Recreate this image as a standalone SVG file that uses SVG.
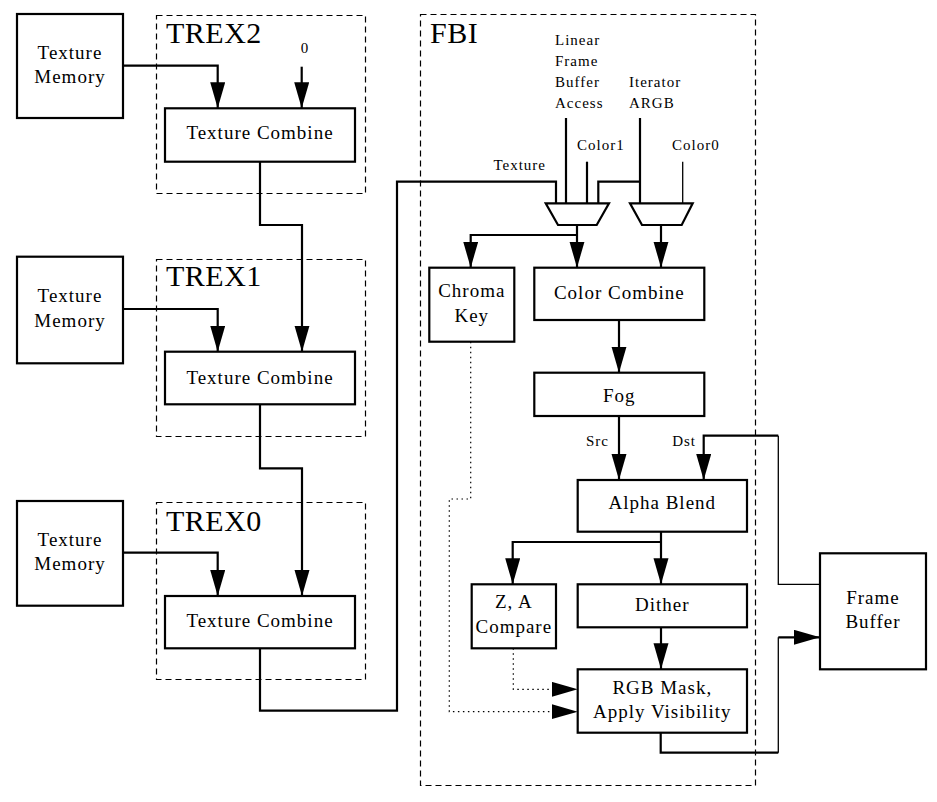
<svg xmlns="http://www.w3.org/2000/svg" width="937" height="802" viewBox="0 0 937 802">
<defs>
<style>
.box{fill:#fff;stroke:#000;stroke-width:2.2}
.grp{fill:none;stroke:#000;stroke-width:1.2;stroke-dasharray:6,4}
.ln{fill:none;stroke:#000;stroke-width:2.2}
.thin{fill:none;stroke:#000;stroke-width:1.3}
.dot{fill:none;stroke:#000;stroke-width:1.2;stroke-dasharray:1.5,3.5}
.mux{fill:#fff;stroke:#000;stroke-width:2.2;stroke-linejoin:miter}
text{font-family:"Liberation Serif","DejaVu Serif",serif;fill:#000}
.t{font-size:19px;text-anchor:middle;letter-spacing:1px}
.big{font-size:30px;letter-spacing:0.5px}
.s{font-size:15px;letter-spacing:1px}
</style>
<marker id="ah" markerUnits="userSpaceOnUse" markerWidth="27" markerHeight="16" refX="26" refY="7.5" orient="auto">
<path d="M0,0 L26,7.5 L0,15 z" fill="#000"/>
</marker>
</defs>
<rect width="937" height="802" fill="#fff"/>

<g id="groups">
<rect id="trex2" class="grp" x="156.5" y="15.5" width="209" height="178"/>
<text class="big" x="166" y="43">TREX2</text>
<rect id="trex1" class="grp" x="156.5" y="259.5" width="209" height="177"/>
<text class="big" x="166" y="286">TREX1</text>
<rect id="trex0" class="grp" x="156.5" y="502.5" width="209" height="177"/>
<text class="big" x="166" y="531">TREX0</text>
<rect id="fbi" class="grp" x="420.5" y="14.5" width="335" height="771"/>
<text class="big" x="430" y="43">FBI</text>
</g>

<g id="connectors">
<polyline class="ln" points="123,65.7 217.7,65.7 217.7,108.3" marker-end="url(#ah)"/>
<polyline class="ln" points="301.7,66.7 301.7,108.3" marker-end="url(#ah)"/>
<polyline class="ln" points="260,161.7 260,225 302,225 302,351.7" marker-end="url(#ah)"/>
<polyline class="ln" points="123,309 217.7,309 217.7,351.7" marker-end="url(#ah)"/>
<polyline class="ln" points="260,404.3 260,468.3 302,468.3 302,596" marker-end="url(#ah)"/>
<polyline class="ln" points="123,552.7 217.7,552.7 217.7,596" marker-end="url(#ah)"/>
<polyline class="ln" points="260,648.3 260,710.7 397,710.7 397,181.7 556,181.7 556,203.3"/>
<polyline class="ln" points="566,118 566,203.3"/>
<polyline class="ln" points="587,161.7 587,203.3"/>
<polyline class="ln" points="640,118 640,203.3"/>
<polyline class="ln" points="640,181.7 598.3,181.7 598.3,203.3"/>
<polyline class="thin" points="682.7,161.7 682.7,203.3"/>
<polyline class="ln" points="577,225 577,267.7" marker-end="url(#ah)"/>
<polyline class="ln" points="577,235 470.7,235 470.7,267.7" marker-end="url(#ah)"/>
<polyline class="ln" points="661,225 661,267.7" marker-end="url(#ah)"/>
<polyline class="ln" points="619,320 619,372.7" marker-end="url(#ah)"/>
<polyline class="ln" points="619,416 619,480" marker-end="url(#ah)"/>
<polyline class="thin" points="820,584.3 778.3,584.3 778.3,435.7"/>
<polyline class="ln" points="778.3,435.7 703.7,435.7 703.7,480" marker-end="url(#ah)"/>
<polyline class="ln" points="661,531.7 661,584.3" marker-end="url(#ah)"/>
<polyline class="ln" points="661,542 512.7,542 512.7,584.3" marker-end="url(#ah)"/>
<polyline class="ln" points="661,627.3 661,669.3" marker-end="url(#ah)"/>
<polyline class="dot" points="513.3,648.3 513.3,689.3 577.7,689.3" marker-end="url(#ah)"/>
<polyline class="dot" points="470.7,341.7 470.7,499 449.3,499 449.3,711.7 577.7,711.7" marker-end="url(#ah)"/>
<polyline class="ln" points="660.7,732.7 660.7,752.7 778.3,752.7"/>
<polyline class="thin" points="778.3,752.7 778.3,637.3"/>
<polyline class="ln" points="778.3,637.3 820,637.3" marker-end="url(#ah)"/>
</g>

<g id="labels">
<text class="s" x="305" y="53" text-anchor="middle">0</text>
<text class="s" x="546" y="170" text-anchor="end">Texture</text>
<text class="s" x="555" y="45">Linear</text>
<text class="s" x="555" y="66">Frame</text>
<text class="s" x="555" y="87">Buffer</text>
<text class="s" x="555" y="108">Access</text>
<text class="s" x="629" y="87">Iterator</text>
<text class="s" x="629" y="108">ARGB</text>
<text class="s" x="577" y="150">Color1</text>
<text class="s" x="672" y="150">Color0</text>
<text class="s" x="609" y="446" text-anchor="end">Src</text>
<text class="s" x="696" y="446" text-anchor="end">Dst</text>
</g>

<g id="tm2"><rect class="box" x="17" y="14" width="106" height="104"/>
<text class="t" x="70" y="59">Texture</text><text class="t" x="70" y="83">Memory</text></g>
<g id="tc2"><rect class="box" x="165" y="108.3" width="190" height="53.4"/>
<text class="t" x="260" y="139.3">Texture Combine</text></g>

<g id="tm1"><rect class="box" x="17" y="256.7" width="106" height="106.6"/>
<text class="t" x="70" y="301.7">Texture</text><text class="t" x="70" y="326.7">Memory</text></g>
<g id="tc1"><rect class="box" x="165" y="351.7" width="190" height="52.6"/>
<text class="t" x="260" y="384">Texture Combine</text></g>

<g id="tm0"><rect class="box" x="17" y="501" width="106" height="104.7"/>
<text class="t" x="70" y="546">Texture</text><text class="t" x="70" y="570">Memory</text></g>
<g id="tc0"><rect class="box" x="165" y="596" width="190" height="52.3"/>
<text class="t" x="260" y="626.7">Texture Combine</text></g>

<g id="mux1"><polygon class="mux" points="545.7,203.3 609,203.3 596.7,225 558,225"/></g>
<g id="mux2"><polygon class="mux" points="630,203.3 692.7,203.3 681.7,225 642,225"/></g>

<g id="chroma"><rect class="box" x="429.3" y="267.7" width="85" height="74"/>
<text class="t" x="471.8" y="296.7">Chroma</text><text class="t" x="471.8" y="321.7">Key</text></g>
<g id="colorcombine"><rect class="box" x="534.3" y="267.7" width="170" height="52.3"/>
<text class="t" x="619.3" y="299">Color Combine</text></g>
<g id="fog"><rect class="box" x="534.3" y="372.7" width="170" height="43.3"/>
<text class="t" x="619.3" y="401.7">Fog</text></g>
<g id="alphablend"><rect class="box" x="577.7" y="480" width="169.3" height="51.7"/>
<text class="t" x="662.3" y="509.3">Alpha Blend</text></g>
<g id="zacompare"><rect class="box" x="471.7" y="584.3" width="84.3" height="64"/>
<text class="t" x="513.8" y="608.3">Z, A</text><text class="t" x="513.8" y="633.3">Compare</text></g>
<g id="dither"><rect class="box" x="577.7" y="584.3" width="169.3" height="43"/>
<text class="t" x="662.3" y="610.7">Dither</text></g>
<g id="rgbmask"><rect class="box" x="577.7" y="669.3" width="169.3" height="63.4"/>
<text class="t" x="662.3" y="694">RGB Mask,</text><text class="t" x="662.3" y="717.7">Apply Visibility</text></g>
<g id="framebuffer"><rect class="box" x="820" y="553.3" width="106" height="116"/>
<text class="t" x="873" y="604.3">Frame</text><text class="t" x="873" y="628.3">Buffer</text></g>
</svg>
